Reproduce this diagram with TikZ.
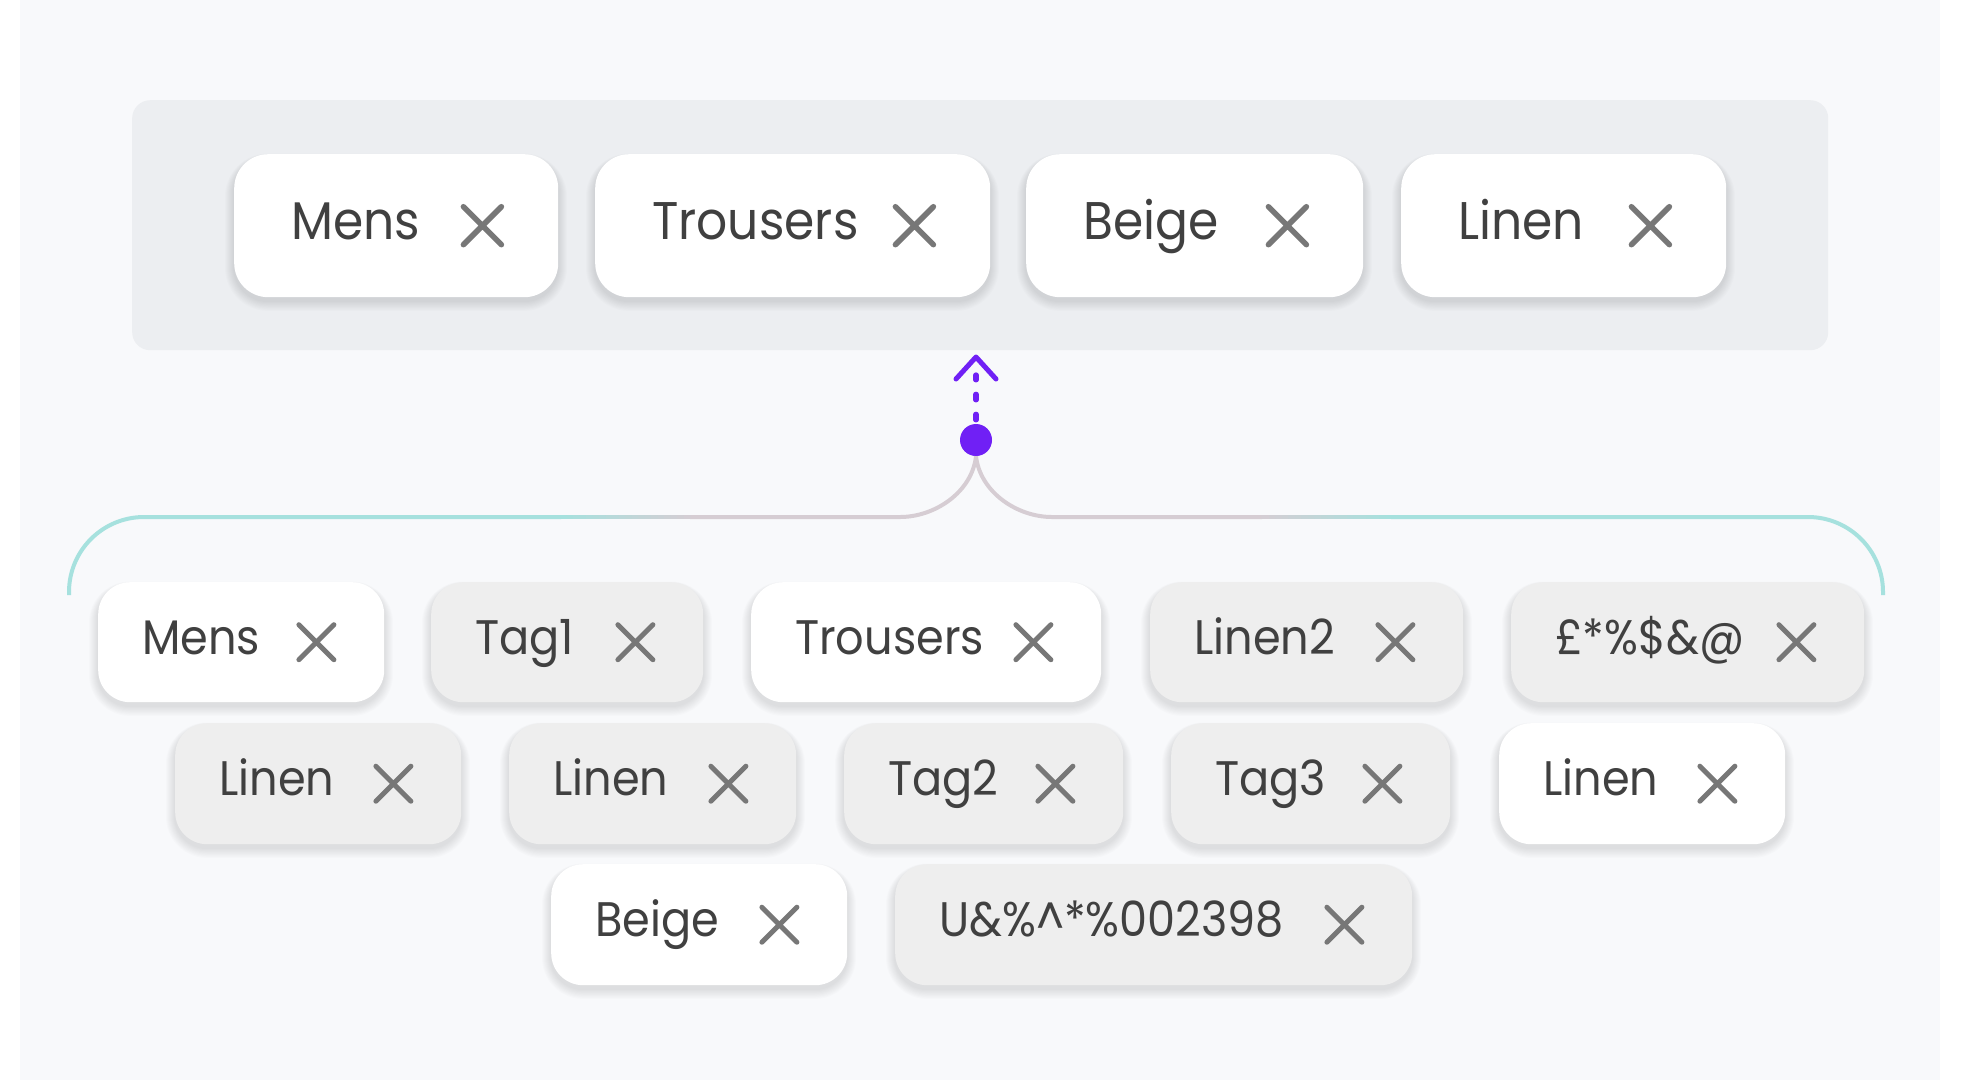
\documentclass[tikz,border=0pt]{standalone}
\usepackage{fontspec}
\setmainfont{Poppins}[FakeStretch=0.92]
\usetikzlibrary{calc}
\definecolor{bgc}{HTML}{F8F9FB}
\definecolor{panelc}{HTML}{ECEEF1}
\definecolor{grayc}{HTML}{EEEEEE}
\definecolor{txtc}{HTML}{404040}
\definecolor{xc}{HTML}{777777}
\definecolor{purp}{HTML}{7020F5}
\definecolor{tealc}{HTML}{A6E1DE}
\definecolor{pinkg}{HTML}{D6CDD3}
\newcommand{\mychip}[7]{%
  \pgfmathsetmacro{\cwid}{#4-#2}%
  \pgfmathsetmacro{\chgt}{#5-#3}%
  \foreach \k in {1,...,9}{%
    \fill[black, opacity=0.011, rounded corners=\crad+\k]
      (#2-\k,#3+4-\k*0.5) rectangle (#4+\k,#5+4+\k*1.1);
  }%
  \node[chipbox, fill=#6, minimum width=\cwid, minimum height=\chgt, anchor=north west] (#1) at (#2,#3) {};
  \node[tagtxt, font=\cfont] (#1-t) at ($(#1.north west)+(\cpad,\chgt/2+\cbase)$) {#7};
  \draw[xmark, line width=\cxw]
    ($(#1.east)+(-\cxoff-\chalf,-\chalf)$) -- ++(2*\chalf,2*\chalf)
    ($(#1.east)+(-\cxoff-\chalf,\chalf)$) -- ++(2*\chalf,-2*\chalf);
}
\tikzset{
  chipbox/.style={rounded corners=\crad, inner sep=0, draw=none},
  tagtxt/.style={anchor=base west, inner sep=0, text=txtc},
  xmark/.style={draw=xc, line cap=round},
  bracket/.style={line width=4, line cap=butt},
}
\begin{document}
\begin{tikzpicture}[x=1pt, y=-1pt]
\useasboundingbox (0,0) rectangle (1961,1080);
\fill[white] (0,0) rectangle (1961,1080);
\fill[bgc] (20,0) rectangle (1940,1080);
% top panel
\node[fill=panelc, rounded corners=18, inner sep=0, minimum width=1696, minimum height=250, anchor=north west] (panel) at (132,100) {};
% big chips
\def\cpad{57}\def\cxoff{76}\def\chalf{19}\def\cxw{5.5}\def\cbase{13.5}\def\crad{34}%
\def\cfont{\fontsize{53}{60}\selectfont}%
\mychip{tm}{234}{154}{558}{297}{white}{Mens}
\mychip{tt}{595}{154}{990}{297}{white}{Trousers}
\mychip{tb}{1026}{154}{1363}{297}{white}{Beige}
\mychip{tl}{1401}{154}{1726}{297}{white}{Linen}
% small chips
\def\cpad{44}\def\cxoff{68}\def\chalf{17.5}\def\cxw{5}\def\cbase{12}\def\crad{32}%
\def\cfont{\fontsize{48.5}{56}\selectfont}%
\mychip{m2}{98}{582}{384}{702}{white}{Mens}
\mychip{g1}{431}{582}{703}{702}{grayc}{Tag1}
\mychip{tr2}{751}{582}{1101}{702}{white}{Trousers}
\mychip{l2}{1150}{582}{1463}{702}{grayc}{Linen2}
\mychip{sym}{1511}{582}{1864}{702}{grayc}{£*\%\$\&@}
\mychip{l3a}{175}{723}{461}{844}{grayc}{Linen}
\mychip{l3b}{509}{723}{796}{844}{grayc}{Linen}
\mychip{g2}{844}{723}{1123}{844}{grayc}{Tag2}
\mychip{g3}{1171}{723}{1450}{844}{grayc}{Tag3}
\mychip{l3c}{1499}{723}{1785}{844}{white}{Linen}
\mychip{b4}{551}{864}{847}{985}{white}{Beige}
\mychip{u4}{895}{864}{1412}{985}{grayc}{U\&\%\textasciicircum*\%002398}
% connector
\node[circle, fill=purp, minimum size=32, inner sep=0] (dot) at (976,440) {};
\coordinate (dstart) at ($(dot.north)+(0,-4)$);
\coordinate (tip) at (976,357);
\coordinate (dend) at (976,375);
\draw[purp, line width=5.3, line cap=round, dash pattern=on 5.5 off 14.5] (dstart) -- (dend);
\draw[purp, line width=5, line cap=round, line join=round] ($(tip)+(-20,22)$) -- (tip) -- ($(tip)+(20,22)$);
% bracket
\coordinate (lend) at (69,595);
\coordinate (rend) at (1883,595);
\draw[bracket, pinkg] (dot.south) .. controls (972,492) and (935,517) .. (900,517) -- (690,517);
\draw[bracket, pinkg] (dot.south) .. controls (980,492) and (1017,517) .. (1052,517) -- (1262,517);
\foreach \i in {0,...,19}{
  \pgfmathsetmacro{\pc}{100-\i*5}
  \draw[bracket, tealc!\pc!pinkg] (560+\i*6.5,517) -- (567.5+\i*6.5,517);
  \draw[bracket, tealc!\pc!pinkg] (1392-\i*6.5,517) -- (1384.5-\i*6.5,517);
}
\draw[bracket, tealc] (561,517) -- (144,517) arc[start angle=-90, end angle=-180, radius=75] -- (lend);
\draw[bracket, tealc] (1391,517) -- (1808,517) arc[start angle=-90, end angle=0, radius=75] -- (rend);
\end{tikzpicture}
\end{document}
